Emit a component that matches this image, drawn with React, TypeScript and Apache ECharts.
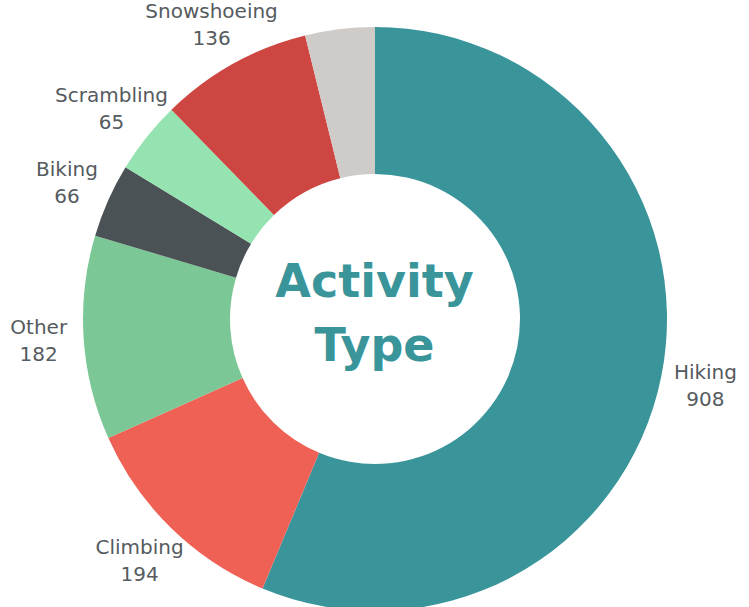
import React, { useEffect, useRef } from "react";
import * as echarts from "echarts";

const categories = ["Hiking", "Climbing", "Other", "Biking", "Scrambling", "Snowshoeing", "Unlabeled"];
const values = [908, 194, 182, 66, 65, 136, 62];
const colors = ["#3a959b", "#ef6155", "#7bc795", "#4b5256", "#95e3b0", "#ce4641", "#cfcbc8"];
const hiddenLabels = ["Unlabeled"];
const centerTitle = "Activity\nType";

export default function App() {
  const ref = useRef<HTMLDivElement>(null);
  useEffect(() => {
    if (!ref.current) return;
    const chart = echarts.init(ref.current, null, { renderer: "svg" });
    const data = categories.map((name, i) => ({
      name,
      value: values[i],
      itemStyle: { color: colors[i] },
    }));
    const labelData = categories.map((name, i) => ({
      name: hiddenLabels.includes(name) ? "" : name,
      value: values[i],
      label: { show: !hiddenLabels.includes(name) },
    }));
    chart.setOption({
      animation: false,
      backgroundColor: "#ffffff",
      graphic: [
        {
          type: "text",
          left: "center",
          top: 249,
          style: {
            text: centerTitle,
            fill: "#3a959b",
            font: "bold 46px 'DejaVu Sans'",
            textAlign: "center",
            lineHeight: 64,
          },
        },
      ],
      series: [
        {
          type: "pie",
          center: [375, 319],
          radius: [145, 292],
          startAngle: 90,
          clockwise: true,
          silent: true,
          label: { show: false },
          labelLine: { show: false },
          data,
        },
        {
          type: "pie",
          center: [375, 319],
          radius: [292, 376],
          startAngle: 90,
          clockwise: true,
          silent: true,
          itemStyle: { color: "rgba(0,0,0,0)" },
          label: {
            show: true,
            position: "inside",
            formatter: "{b}\n{c}",
            color: "#555b5e",
            fontFamily: "DejaVu Sans",
            fontSize: 20,
            lineHeight: 27,
            align: "center",
          },
          labelLine: { show: false },
          data: labelData,
        },
      ],
    });
    return () => chart.dispose();
  }, []);
  return (
    <div
      ref={ref}
      style={{ position: "absolute", left: 0, top: 0, width: 749, height: 607 }}
    />
  );
}
